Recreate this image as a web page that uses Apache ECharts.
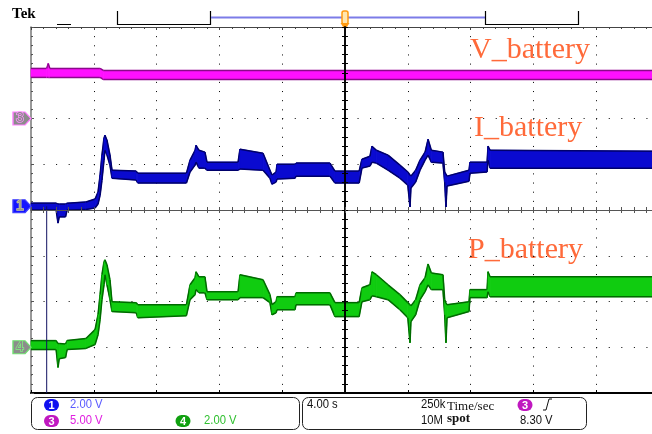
<!DOCTYPE html>
<html>
<head>
<meta charset="utf-8">
<script src="https://cdn.jsdelivr.net/npm/echarts@6.0.0/dist/echarts.min.js"></script>
<style>
html,body{margin:0;padding:0;background:#fff;overflow:hidden;width:652px;height:434px;}
#chart{width:660px;height:434px;}
</style>
</head>
<body>
<div id="chart"></div>
<script>
// ---- data: time in seconds (4 s/div, trigger at 0), values in volts ----
const timeS = [-20, -18.4, -18.28, -18.2, -17.8, -17.7, -16.5, -15.92, -15.73, -15.6, -15.48, -15.35, -15.29, -15.16, -14.97, -14.84, -13.3, -13.2, -10.1, -9.87, -9.55, -9.49, -9.3, -8.92, -8.79, -6.81, -6.69, -5.22, -4.78, -4.65, -4.39, -4.33, -3.18, -3.12, -0.96, -0.64, 0.9, 1.08, 1.59, 1.72, 2.0, 2.74, 3.5, 4.0, 4.14, 4.2, 4.5, 4.78, 5.1, 5.29, 5.5, 6.24, 6.35, 6.43, 6.5, 7.9, 7.96, 9.05, 9.11, 9.24, 20];

// channel 1 : I_battery (upper / lower edge of the noisy band)
const iBatHi = [0.14, 0.14, 0.10, 0.10, 0.10, 0.14, 0.19, 0.32, 0.62, 1.37, 2.24, 2.98, 3.11, 2.89, 2.24, 1.58, 1.54, 1.45, 1.45, 2.02, 2.45, 2.67, 2.45, 2.37, 1.93, 1.93, 2.50, 2.32, 1.58, 1.37, 1.50, 1.84, 1.84, 1.89, 1.89, 1.54, 1.54, 2.06, 2.19, 2.63, 2.45, 2.24, 1.80, 1.50, 1.37, 1.32, 1.58, 2.02, 2.37, 2.93, 2.45, 2.37, 1.50, 1.41, 1.32, 1.58, 1.93, 1.93, 2.63, 2.45, 2.41];
const iBatLo = [-0.16, -0.16, -0.73, -0.46, -0.46, -0.16, -0.14, -0.07, 0.10, 0.49, 1.15, 2.02, 2.45, 2.24, 1.80, 1.23, 1.15, 1.02, 1.02, 1.50, 1.80, 1.93, 1.67, 1.67, 1.58, 1.58, 1.63, 1.58, 1.23, 0.97, 1.06, 1.19, 1.23, 1.32, 1.32, 1.02, 1.02, 1.67, 1.76, 1.93, 1.89, 1.58, 1.23, 0.93, -0.03, 0.80, 1.06, 1.58, 2.02, 2.24, 1.93, 1.89, 1.06, -0.03, 0.89, 1.10, 1.45, 1.50, 2.02, 1.67, 1.67];

// channel 4 : P_battery
const pBatHi = [0.29, 0.29, 0.16, 0.16, 0.14, 0.29, 0.38, 0.77, 1.43, 2.30, 3.17, 3.73, 3.82, 3.60, 2.95, 1.99, 1.95, 1.86, 1.86, 2.73, 3.04, 3.30, 3.08, 3.08, 2.43, 2.43, 3.17, 2.95, 2.30, 1.86, 1.99, 2.21, 2.21, 2.38, 2.38, 1.95, 1.95, 2.60, 2.73, 3.30, 3.17, 2.73, 2.30, 1.95, 1.86, 1.81, 2.08, 2.73, 3.04, 3.64, 3.25, 3.17, 2.08, 1.93, 1.86, 1.99, 2.52, 2.52, 3.30, 3.08, 3.08];
const pBatLo = [-0.10, -0.10, -0.88, -0.50, -0.45, -0.10, -0.05, 0.12, 0.55, 1.21, 2.08, 2.73, 3.17, 2.73, 2.08, 1.56, 1.51, 1.29, 1.38, 2.08, 2.30, 2.52, 2.38, 2.38, 2.08, 2.08, 2.17, 2.17, 1.95, 1.42, 1.51, 1.64, 1.64, 1.86, 1.86, 1.34, 1.34, 1.99, 2.08, 2.25, 2.21, 2.08, 1.64, 1.29, 0.20, 1.12, 1.42, 2.08, 2.43, 2.73, 2.52, 2.52, 1.42, 0.20, 1.29, 1.56, 2.17, 2.17, 2.43, 2.21, 2.21];

// channel 3 : V_battery
const vBatTime = [-20, -19.0, -18.9, -18.8, -15.6, -15.4, 20];
const vBatHi = [5.47, 5.47, 6.0, 5.47, 5.47, 5.25, 5.25];
const vBatLo = [4.49, 4.49, 4.49, 4.49, 4.49, 4.27, 4.27];

// cursor line (time, screen divisions)
const cursorTime = [-19.0, -19.0];
const cursorDiv = [0.08, -4];

// channel settings (V/div, ground position in divisions)
const ch1 = { scale: 2, ground: 0.08 };
const ch3 = { scale: 5, ground: 2 };
const ch4 = { scale: 2, ground: -3 };

// trace names and readout texts
const traceNames = ['V_battery', 'I_battery', 'P_battery'];
const chScaleText = ['2.00 V', '5.00 V', '2.00 V'];
const timeDivText = '4.00 s';
const sampleRateText = '250k';
const recordText = '10M';
const trigLevelText = '8.30 V';

// -----------------------------------------------------------------
const chart = echarts.init(document.getElementById('chart'), null, { renderer: 'canvas', width: 660, height: 434 });

function bandData(t, hi, lo, ch) {
  return t.map((x, i) => [x, ch.ground + lo[i] / ch.scale, ch.ground + hi[i] / ch.scale]);
}
function bandRender(fill, edge) {
  return function (params, api) {
    const i = params.dataIndexInside;
    const n = params.dataInsideLength;
    if (i >= n - 1) return null;
    const a0 = api.coord([api.value(0, i), api.value(1, i)]);
    const b0 = api.coord([api.value(0, i), api.value(2, i)]);
    const a1 = api.coord([api.value(0, i + 1), api.value(1, i + 1)]);
    const b1 = api.coord([api.value(0, i + 1), api.value(2, i + 1)]);
    return {
      type: 'group',
      children: [
        { type: 'polygon', shape: { points: [a0, b0, b1, a1] }, style: { fill: fill, stroke: fill, lineWidth: 0.8 } },
        { type: 'line', shape: { x1: b0[0], y1: b0[1], x2: b1[0], y2: b1[1] }, style: { stroke: edge, lineWidth: 1.5 } },
        { type: 'line', shape: { x1: a0[0], y1: a0[1], x2: a1[0], y2: a1[1] }, style: { stroke: edge, lineWidth: 1.5 } }
      ]
    };
  };
}
function marker(ch, fill, border, txt, txtColor, txtBorder) {
  return {
    symbol: 'path://M0,0H12L18,6.5L12,13H0Z',
    symbolSize: [18, 13],
    symbolOffset: [-9, 0],
    silent: true,
    animation: false,
    data: [{
      coord: [-20, ch.ground],
      itemStyle: { color: fill, borderColor: border, borderWidth: 1.2 },
      label: { show: true, formatter: txt, color: txtColor, fontSize: 14, fontFamily: 'Liberation Sans', offset: [-2, 0], textBorderColor: txtBorder, textBorderWidth: 1.5 }
    }]
  };
}

const xc = { type: 'value', min: -20, max: 20, interval: 4, axisLabel: { show: false }, splitLine: { show: false } };
const yc = { type: 'value', min: -4, max: 4, interval: 1, axisLabel: { show: false }, splitLine: { show: false } };

const serif = 'Liberation Serif';
const sans = 'Liberation Sans';
const orange = '#ff6a3a';
const r1 = 405, r2 = 421;

function numText(x, y, txt, color) {
  return { type: 'text', x: x, y: y, scaleX: 0.9, style: { text: txt, fill: color, fontSize: 12.5, fontFamily: sans, verticalAlign: 'middle', align: 'left' } };
}
function badge(cx, cy, color, txt) {
  return [
    { type: 'rect', shape: { x: cx - 7.5, y: cy - 6, width: 15, height: 12, r: 6 }, style: { fill: color } },
    { type: 'text', x: cx, y: cy + 0.5, style: { text: txt, fill: '#fff', fontSize: 11, fontWeight: 'bold', fontFamily: sans, align: 'center', verticalAlign: 'middle' } }
  ];
}

const option = {
  animation: false,
  backgroundColor: '#ffffff',
  grid: { left: 31, top: 27, width: 628, height: 366, containLabel: false },
  xAxis: [
    Object.assign({}, xc, { position: 'bottom', z: 5,
      axisLine: { show: true, onZero: true, onZeroAxisIndex: 0, lineStyle: { color: '#555', width: 1 } },
      axisTick: { show: true, length: 3, lineStyle: { color: '#555' } },
      minorTick: { show: true, splitNumber: 5, length: 3, lineStyle: { color: '#555' } } }),
    Object.assign({}, xc, { position: 'top', z: 5,
      axisLine: { show: true, onZero: true, onZeroAxisIndex: 0, lineStyle: { color: '#555', width: 1 } },
      axisTick: { show: true, length: 3, lineStyle: { color: '#555' } },
      minorTick: { show: true, splitNumber: 5, length: 3, lineStyle: { color: '#555' } } }),
    Object.assign({}, xc, { position: 'bottom', z: 1,
      axisLine: { show: true, onZero: false, lineStyle: { color: '#000', width: 2 } },
      axisTick: { show: true, inside: true, length: 3, lineStyle: { color: '#000' } },
      splitLine: { show: true, lineStyle: { color: '#000', width: 1, type: [1, 8.15] } } }),
    Object.assign({}, xc, { position: 'top', z: 1,
      axisLine: { show: true, onZero: false, lineStyle: { color: '#444', width: 1 } },
      axisTick: { show: true, inside: true, length: 3, lineStyle: { color: '#444' } },
      minorTick: { show: true, splitNumber: 5, length: 2, lineStyle: { color: '#444' } } })
  ],
  yAxis: [
    Object.assign({}, yc, { position: 'left', z: 5,
      axisLine: { show: true, onZero: true, onZeroAxisIndex: 0, lineStyle: { color: '#000', width: 1.6 } },
      axisTick: { show: true, length: 3, lineStyle: { color: '#000' } },
      minorTick: { show: true, splitNumber: 5, length: 3, lineStyle: { color: '#000' } } }),
    Object.assign({}, yc, { position: 'right', z: 5,
      axisLine: { show: true, onZero: true, onZeroAxisIndex: 0, lineStyle: { color: '#000', width: 1.6 } },
      axisTick: { show: true, length: 3, lineStyle: { color: '#000' } },
      minorTick: { show: true, splitNumber: 5, length: 3, lineStyle: { color: '#000' } } }),
    Object.assign({}, yc, { position: 'left', z: 1,
      axisLine: { show: true, onZero: false, lineStyle: { color: '#777', width: 1.5 } },
      axisTick: { show: true, inside: true, length: 3, lineStyle: { color: '#555' } },
      minorTick: { show: true, splitNumber: 5, length: 2, lineStyle: { color: '#555' } },
      splitLine: { show: true, lineStyle: { color: '#000', width: 1, type: [1, 11.56] } } })
  ],
  series: [
    { type: 'custom', name: traceNames[0], coordinateSystem: 'cartesian2d', xAxisIndex: 0, yAxisIndex: 0, z: 3, silent: true,
      data: bandData(vBatTime, vBatHi, vBatLo, ch3), encode: { x: 0, y: [1, 2] },
      renderItem: bandRender('#ff10ff', '#8a0a8a'),
      markPoint: marker(ch3, '#8c8c8c', '#ff80ff', '3', '#8c8c8c', '#ff90ff') },
    { type: 'custom', name: traceNames[1], coordinateSystem: 'cartesian2d', xAxisIndex: 0, yAxisIndex: 0, z: 3, silent: true,
      data: bandData(timeS, iBatHi, iBatLo, ch1), encode: { x: 0, y: [1, 2] },
      renderItem: bandRender('#0a0ad0', '#00006a'),
      markPoint: marker(ch1, '#1414ff', '#4040ff', '1', '#9a9a80', '#c8c8a0') },
    { type: 'custom', name: traceNames[2], coordinateSystem: 'cartesian2d', xAxisIndex: 0, yAxisIndex: 0, z: 3, silent: true,
      data: bandData(timeS, pBatHi, pBatLo, ch4), encode: { x: 0, y: [1, 2] },
      renderItem: bandRender('#10cc10', '#006a00'),
      markPoint: marker(ch4, '#8c8c8c', '#70e070', '4', '#8c8c8c', '#80f080') },
    { type: 'line', name: 'cursor', xAxisIndex: 0, yAxisIndex: 0, z: 4, silent: true, symbol: 'none',
      data: cursorTime.map((t, i) => [t, cursorDiv[i]]),
      lineStyle: { color: '#101060', width: 1 } }
  ],
  graphic: [
    // header
    { type: 'text', x: 12, y: 7, style: { text: 'Tek', fontFamily: serif, fontWeight: 'bold', fontSize: 15, fill: '#000' } },
    { type: 'line', shape: { x1: 57, y1: 24.5, x2: 71, y2: 24.5 }, style: { stroke: '#000', lineWidth: 1 } },
    { type: 'polyline', shape: { points: [[117.5, 11], [117.5, 24.5], [210.5, 24.5], [210.5, 11]] }, style: { stroke: '#000', lineWidth: 1.2, fill: null } },
    { type: 'line', shape: { x1: 211, y1: 17.5, x2: 485, y2: 17.5 }, style: { stroke: '#7c7ce8', lineWidth: 2 } },
    { type: 'polyline', shape: { points: [[485.5, 11], [485.5, 24.5], [578.5, 24.5], [578.5, 11]] }, style: { stroke: '#000', lineWidth: 1.2, fill: null } },
    { type: 'rect', shape: { x: 342, y: 11, width: 6, height: 13, r: 2 }, style: { fill: '#ffe6b0', stroke: '#ff9a10', lineWidth: 1.5 } },
    { type: 'polygon', shape: { points: [[340.5, 23], [349.5, 23], [345, 30]] }, style: { fill: '#ff9a10' } },
    // trace names
    { type: 'text', x: 470, y: 50, style: { text: traceNames[0], fontFamily: serif, fontSize: 30, fill: orange, verticalAlign: 'middle' } },
    { type: 'text', x: 474, y: 128, style: { text: traceNames[1], fontFamily: serif, fontSize: 30, fill: orange, verticalAlign: 'middle' } },
    { type: 'text', x: 468, y: 250, style: { text: traceNames[2], fontFamily: serif, fontSize: 30, fill: orange, verticalAlign: 'middle' } },
    // readout panel
    { type: 'rect', shape: { x: 31.5, y: 397.5, width: 268, height: 32, r: 6 }, style: { fill: '#fff', stroke: '#222', lineWidth: 1 } },
    { type: 'rect', shape: { x: 302.5, y: 397.5, width: 284, height: 32, r: 6 }, style: { fill: '#fff', stroke: '#222', lineWidth: 1 } },
    ...badge(51.5, r1, '#1010f0', '1'),
    numText(70, r1, chScaleText[0], '#5a5aff'),
    ...badge(51.5, r2, '#c018c0', '3'),
    numText(70, r2, chScaleText[1], '#e020e0'),
    ...badge(183, r2, '#10a010', '4'),
    numText(204, r2, chScaleText[2], '#30c030'),
    numText(307, r1, timeDivText, '#111'),
    numText(421, r1, sampleRateText, '#111'),
    { type: 'text', x: 447, y: r1 + 2, style: { text: 'Time/sec', fill: '#111', fontSize: 13, fontFamily: serif, verticalAlign: 'middle' } },
    ...badge(525, r1, '#c018c0', '3'),
    { type: 'polyline', shape: { points: [[543, r1 + 5], [546, r1 + 5], [549, r1 - 6], [552, r1 - 6]] }, style: { stroke: '#111', lineWidth: 1, fill: null } },
    numText(421, r2, recordText, '#111'),
    { type: 'text', x: 447, y: r2 - 2, style: { text: 'spot', fill: '#111', fontSize: 13, fontWeight: 'bold', fontFamily: serif, verticalAlign: 'middle' } },
    numText(520, r2, trigLevelText, '#111')
  ]
};
chart.setOption(option);
</script>
</body>
</html>
